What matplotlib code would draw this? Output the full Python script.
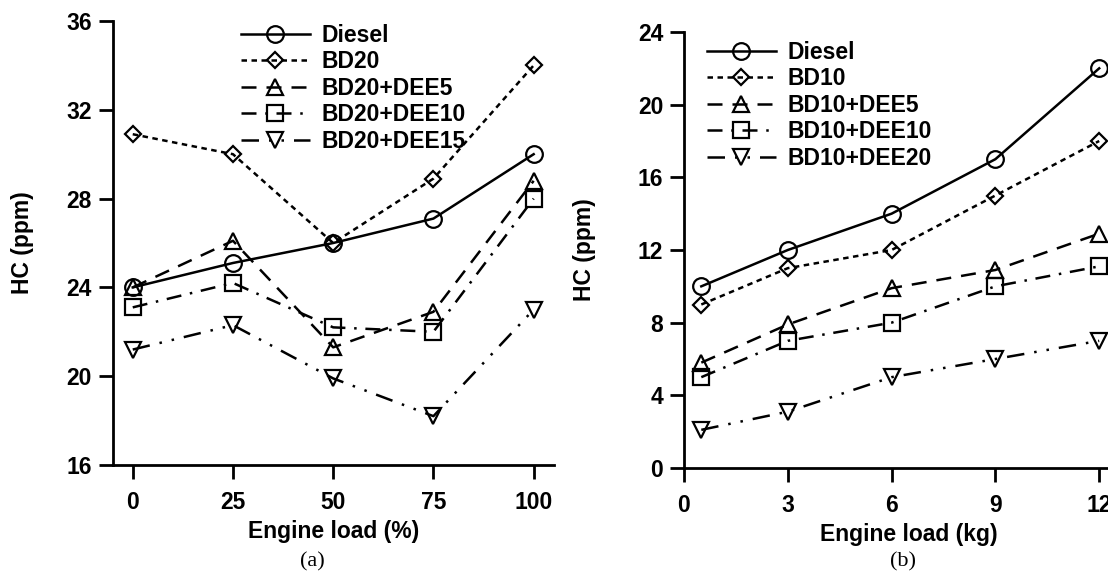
import matplotlib
matplotlib.use('Agg')
import matplotlib.pyplot as plt

plt.rcParams['font.family'] = ['Liberation Sans', 'DejaVu Sans']
plt.rcParams['font.weight'] = 'bold'

# panel (a)
load_pct = [0, 25, 50, 75, 100]
a_labels = ['Diesel', 'BD20', 'BD20+DEE5', 'BD20+DEE10', 'BD20+DEE15']
a_diesel = [24.0, 25.1, 26.0, 27.1, 30.0]
a_bd20 = [30.9, 30.0, 26.0, 28.9, 34.0]
a_dee5 = [24.0, 26.1, 21.3, 22.9, 28.8]
a_dee10 = [23.1, 24.2, 22.2, 22.0, 28.0]
a_dee15 = [21.2, 22.3, 19.9, 18.2, 23.0]

# panel (b)
load_kg = [0.5, 3, 6, 9, 12]
b_labels = ['Diesel', 'BD10', 'BD10+DEE5', 'BD10+DEE10', 'BD10+DEE20']
b_diesel = [10.0, 12.0, 14.0, 17.0, 22.0]
b_bd10 = [9.0, 11.0, 12.0, 15.0, 18.0]
b_dee5 = [5.8, 7.9, 9.9, 10.9, 12.9]
b_dee10 = [5.0, 7.0, 8.0, 10.0, 11.1]
b_dee20 = [2.1, 3.1, 5.0, 6.0, 7.0]

styles = [
    dict(marker='o', ms=12, ls='-'),
    dict(marker='D', ms=8, dashes=(2.2, 1.8)),
    dict(marker='^', ms=11, dashes=(6, 4)),
    dict(marker='s', ms=11, dashes=(6, 3.5, 1, 3.5)),
    dict(marker='v', ms=11, dashes=(7, 4, 1, 4, 1, 4)),
]

W, H = 1108, 571
fig = plt.figure(figsize=[W / 100, H / 100], dpi=100)
FS = 16.5


def setup(ax):
    for s in ['top', 'right']:
        ax.spines[s].set_visible(False)
    for s in ['left', 'bottom']:
        ax.spines[s].set_linewidth(2)
    ax.tick_params(direction='out', length=10, width=2, labelsize=FS)
    ax.tick_params(axis='x', pad=9)
    ax.tick_params(axis='y', pad=5)
    for lab in ax.get_xticklabels() + ax.get_yticklabels():
        lab.set_fontweight('bold')


def draw(ax, x, series, labels):
    for y, lab, st in zip(series, labels, styles):
        ax.plot(x, y, color='black', lw=1.8, mfc='none', mec='black',
                mew=1.6, label=lab, clip_on=False, **st)


def add_legend(ax, x0, y0):
    ax.legend(loc='upper left', bbox_to_anchor=(x0 / W, 1 - y0 / H),
              bbox_transform=fig.transFigure, frameon=False, fontsize=FS,
              handlelength=3.0, handletextpad=0.5, labelspacing=0.15,
              borderpad=0, borderaxespad=0, numpoints=1)


ax1 = fig.add_axes([112.7 / W, 1 - 465 / H, 441 / W, 444 / H])
draw(ax1, load_pct, [a_diesel, a_bd20, a_dee5, a_dee10, a_dee15], a_labels)
ax1.set_xlim(-5, 105)
ax1.set_ylim(16, 36)
ax1.set_xticks(load_pct)
ax1.set_yticks([16, 20, 24, 28, 32, 36])
setup(ax1)
ax1.set_xlabel('Engine load (%)', fontsize=FS, fontweight='bold', labelpad=4)
add_legend(ax1, 241, 24)

ax2 = fig.add_axes([684 / W, 1 - 468 / H, 13 * 34.6 / W, 436 / H])
draw(ax2, load_kg, [b_diesel, b_bd10, b_dee5, b_dee10, b_dee20], b_labels)
ax2.set_xlim(0, 13)
ax2.set_ylim(0, 24)
ax2.set_xticks([0, 3, 6, 9, 12])
ax2.set_yticks([0, 4, 8, 12, 16, 20, 24])
setup(ax2)
ax2.set_xlabel('Engine load (kg)', fontsize=FS, fontweight='bold', labelpad=4)
add_legend(ax2, 707, 41)

# y labels placed in figure pixels
fig.text(23 / W, 1 - 243 / H, 'HC (ppm)', rotation=90, fontsize=FS,
         fontweight='bold', ha='center', va='center')
fig.text(584 / W, 1 - 250 / H, 'HC (ppm)', rotation=90, fontsize=FS,
         fontweight='bold', ha='center', va='center')

fig.text(312 / W, 1 - 562 / H, '(a)', family='Liberation Serif',
         fontweight='normal', fontsize=16, ha='center', va='center')
fig.text(903 / W, 1 - 562 / H, '(b)', family='Liberation Serif',
         fontweight='normal', fontsize=16, ha='center', va='center')

fig.savefig('out.png', dpi=100)
